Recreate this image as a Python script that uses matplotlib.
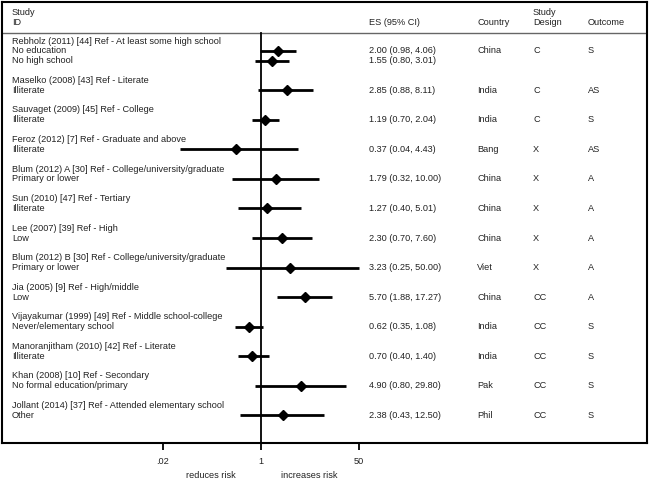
import matplotlib
matplotlib.use("Agg")
import matplotlib.pyplot as plt
import matplotlib.transforms as mtransforms

plt.rcParams['font.family'] = ['Liberation Sans', 'DejaVu Sans']

# study header lines
titles = [
    "Rebholz (2011) [44] Ref - At least some high school",
    "Maselko (2008) [43] Ref - Literate",
    "Sauvaget (2009) [45] Ref - College",
    "Feroz (2012) [7] Ref - Graduate and above",
    "Blum (2012) A [30] Ref - College/university/graduate",
    "Sun (2010) [47] Ref - Tertiary",
    "Lee (2007) [39] Ref - High",
    "Blum (2012) B [30] Ref - College/university/graduate",
    "Jia (2005) [9] Ref - High/middle",
    "Vijayakumar (1999) [49] Ref - Middle school-college",
    "Manoranjitham (2010) [42] Ref - Literate",
    "Khan (2008) [10] Ref - Secondary",
    "Jollant (2014) [37] Ref - Attended elementary school",
]
comparisons = [
    ["No education", "No high school"],
    ["Illiterate"],
    ["Illiterate"],
    ["Illiterate"],
    ["Primary or lower"],
    ["Illiterate"],
    ["Low"],
    ["Primary or lower"],
    ["Low"],
    ["Never/elementary school"],
    ["Illiterate"],
    ["No formal education/primary"],
    ["Other"],
]
es = [2.00, 1.55, 2.85, 1.19, 0.37, 1.79, 1.27, 2.30, 3.23, 5.70, 0.62, 0.70, 4.90, 2.38]
lo = [0.98, 0.80, 0.88, 0.70, 0.04, 0.32, 0.40, 0.70, 0.25, 1.88, 0.35, 0.40, 0.80, 0.43]
hi = [4.06, 3.01, 8.11, 2.04, 4.43, 10.00, 5.01, 7.60, 50.00, 17.27, 1.08, 1.40, 29.80, 12.50]
country = ["China", "India", "India", "Bang", "China", "China", "China", "Viet",
           "China", "India", "India", "Pak", "Phil"]
design = ["C", "C", "C", "X", "X", "X", "X", "X", "CC", "CC", "CC", "CC", "CC"]
outcome = ["S", "AS", "S", "AS", "A", "A", "A", "A", "A", "S", "S", "S", "S"]
xticks = [0.02, 1, 50]
xtick_labels = [".02", "1", "50"]

W, H = 652, 479
fig = plt.figure(figsize=(W / 100, H / 100), dpi=100)

# box spans pixels x 2..647, y 2..443
left, right, top, bottom = 2, 647, 2, 443
ax = fig.add_axes([left / W, 1 - bottom / H, (right - left) / W, (bottom - top) / H])
ax.set_xscale('log')
px_dec = 57.7
x1 = 261
ax.set_xlim(10 ** ((left - x1) / px_dec), 10 ** ((right - x1) / px_dec))

pitch = 9.85
y0 = 41
ax.set_ylim((bottom - y0) / pitch, (top - y0) / pitch)

fs = 6.6
tc = '#222222'
tr = mtransforms.blended_transform_factory(fig.transFigure, ax.transData)
def fx(px):
    return px / W

def txt(px, y, s):
    ax.text(fx(px), y, s, transform=tr, fontsize=fs, va='center', color=tc)

# header
hy_study = (12 - y0) / pitch
hy_id = (22 - y0) / pitch
txt(12, hy_study, "Study")
txt(12, hy_id, "ID")
txt(369, hy_id, "ES (95% CI)")
txt(477, hy_id, "Country")
txt(533, hy_study, "Study")
txt(533, hy_id, "Design")
txt(588, hy_id, "Outcome")
hline_y = (33 - y0) / pitch
ax.axhline(hline_y, color='#666666', lw=1.0)

row = 0
k = 0
for i, t in enumerate(titles):
    txt(12, row, t)
    row += 1
    first = True
    for c in comparisons[i]:
        txt(12, row, c)
        ax.plot([lo[k], hi[k]], [row, row], color='black', lw=2.0, solid_capstyle='butt')
        ax.plot(es[k], row, marker='D', color='black', ms=5.5)
        txt(369, row, "%.2f (%.2f, %.2f)" % (es[k], lo[k], hi[k]))
        if first:
            txt(477, row, country[i])
            txt(533, row, design[i])
            txt(588, row, outcome[i])
            first = False
        row += 1
        k += 1
    row += 1

ax.plot([1, 1], [hline_y, ax.get_ylim()[0]], color='black', lw=1.3)

ax.set_xticks(xticks)
ax.set_xticklabels(xtick_labels, fontsize=fs, color=tc)
ax.minorticks_off()
ax.tick_params(axis='x', direction='out', length=5, width=1.3, pad=5)
ax.set_yticks([])
for s in ax.spines.values():
    s.set_linewidth(1.5)

fig.text(211 / W, 1 - 475 / H, "reduces risk", fontsize=fs, ha='center', va='center', color=tc)
fig.text(309 / W, 1 - 475 / H, "increases risk", fontsize=fs, ha='center', va='center', color=tc)

fig.savefig("out.png", dpi=100)
